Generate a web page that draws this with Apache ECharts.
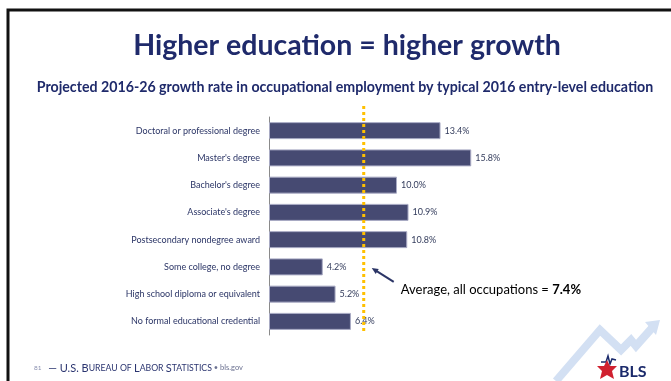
<!DOCTYPE html>
<html>
<head>
<meta charset="utf-8">
<script src="https://cdn.jsdelivr.net/npm/echarts@6/dist/echarts.min.js"></script>
<style>
    html, body { margin: 0; padding: 0; background: #fff; }
    #chart { width: 671px; height: 381px; }
</style>
</head>
<body>
<div id="chart"></div>
<script>
const categories = [
    'Doctoral or professional degree',
    "Master's degree",
    "Bachelor's degree",
    "Associate's degree",
    'Postsecondary nondegree award',
    'Some college, no degree',
    'High school diploma or equivalent',
    'No formal educational credential'
];
const growth = [13.4, 15.8, 10.0, 10.9, 10.8, 4.2, 5.2, 6.4];
const average = 7.4;
const avgLabel = 'Average, all occupations = ';

const navy = '#1f2a6b';
const chart = echarts.init(document.getElementById('chart'));

chart.setOption({
    backgroundColor: '#fff',
    animation: false,
    textStyle: { fontFamily: 'Lato' },
    title: [
        {
            text: 'Higher education = higher growth',
            left: 342, top: 26, textAlign: 'center',
            textStyle: { fontSize: 28.5, fontWeight: 'bold', color: navy, fontFamily: 'Lato' }
        },
        {
            text: 'Projected 2016-26 growth rate in occupational employment by typical 2016 entry-level education',
            left: 340, top: 75, textAlign: 'center',
            textStyle: { fontSize: 14.2, fontWeight: 'bold', color: navy, fontFamily: 'Lato' }
        }
    ],
    grid: { left: 269, top: 117, width: 256, height: 218 },
    xAxis: {
        type: 'value', min: 0, max: 20,
        show: false
    },
    yAxis: {
        type: 'category',
        data: categories,
        inverse: true,
        axisTick: { show: false },
        axisLine: { lineStyle: { color: '#8a8a8a', width: 1 } },
        axisLabel: { fontSize: 9, color: '#2b3566', margin: 9, fontFamily: 'Lato' }
    },
    series: [
        {
            type: 'bar',
            data: growth,
            barWidth: 17,
            itemStyle: { color: '#464a72', borderColor: '#a9abc4', borderWidth: 1 },
            label: {
                show: true, position: 'right', distance: 4,
                formatter: p => p.value.toFixed(1) + '%',
                fontSize: 9, color: '#333c5c', fontFamily: 'Lato'
            }
        },
        {
            // average line + annotation
            type: 'custom',
            data: [[average, categories[5]]],
            z: 5,
            renderItem: (params, api) => {
                const cs = params.coordSys;
                const pt = api.coord([api.value(0), categories[5]]);
                const x = pt[0], y = pt[1];
                return {
                    type: 'group',
                    children: [
                        {
                            type: 'line',
                            shape: { x1: x, y1: cs.y - 11, x2: x, y2: cs.y + cs.height - 2 },
                            style: { stroke: '#ffc000', lineWidth: 3, lineDash: [3, 3] }
                        },
                        {
                            type: 'line',
                            shape: { x1: x + 30, y1: y + 15, x2: x + 11, y2: y + 3 },
                            style: { stroke: '#2b3566', lineWidth: 2 }
                        },
                        {
                            type: 'polygon',
                            shape: { points: [[x + 8, y + 1], [x + 15, y + 2], [x + 12, y + 7]] },
                            style: { fill: '#2b3566' }
                        },
                        {
                            type: 'text',
                            x: x + 37, y: y + 23,
                            style: {
                                text: '{a|' + avgLabel + '}{b|' + api.value(0).toFixed(1) + '%}',
                                verticalAlign: 'middle',
                                rich: {
                                    a: { fontSize: 13, color: '#2a3a78', fontFamily: 'Lato' },
                                    b: { fontSize: 13, color: '#2a3a78', fontWeight: 'bold', fontFamily: 'Lato' }
                                }
                            }
                        }
                    ]
                };
            }
        }
    ],
    graphic: [
        {
            type: 'rect',
            shape: { x: 8, y: 10, width: 700, height: 400 },
            style: { fill: 'none', stroke: '#111', lineWidth: 3 }
        },
        {
            type: 'polyline',
            shape: { points: [[556, 381], [600, 330], [621, 350], [631, 340], [636, 346], [652, 328]] },
            style: { stroke: '#d3e0f3', lineWidth: 8, fill: 'none' }
        },
        {
            type: 'polygon',
            shape: { points: [[645, 322], [660, 320], [656, 335]] },
            style: { fill: '#d3e0f3' }
        },
        {
            type: 'polyline',
            shape: { points: [[601, 362], [606, 362], [608, 356], [610, 364], [612, 359], [616, 360]] },
            style: { stroke: '#1b2a6b', lineWidth: 1.5, fill: 'none' }
        },
        {
            type: 'polygon',
            shape: { points: [[597, 366], [604, 366], [607, 360], [610, 366], [617, 366], [612, 371], [614, 379], [607, 375], [600, 379], [602, 371]] },
            style: { fill: '#d0202f' }
        },
        {
            type: 'text', left: 619, top: 364,
            style: { text: 'BLS', fontSize: 16, fontWeight: 'bold', fill: '#1b2a6b', fontFamily: 'Lato' }
        },
        {
            type: 'text', left: 34, top: 362,
            style: {
                text: '{n|81}  {t|— U.S. B}{s|UREAU OF }{t|L}{s|ABOR }{t|S}{s|TATISTICS}{g| • bls.gov}',
                rich: {
                    n: { fontSize: 6.5, fill: '#8a90b0', fontFamily: 'Lato' },
                    t: { fontSize: 11, fill: '#2b3570', fontFamily: 'Lato' },
                    s: { fontSize: 8.7, fill: '#2b3570', fontFamily: 'Lato' },
                    g: { fontSize: 7.5, fill: '#6a7090', fontFamily: 'Lato' }
                }
            }
        }
    ]
});
</script>
</body>
</html>
